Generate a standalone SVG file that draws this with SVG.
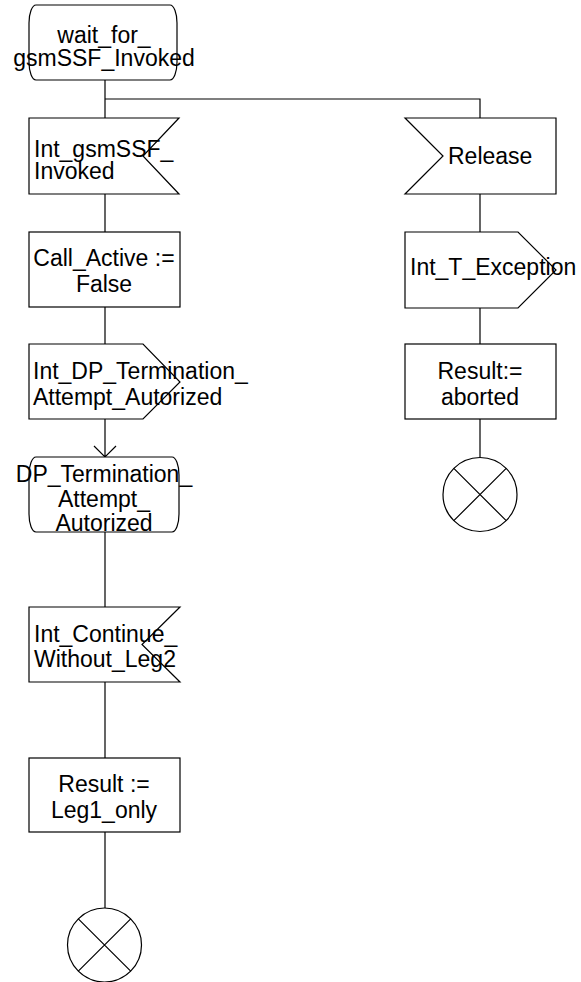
<svg xmlns="http://www.w3.org/2000/svg" width="581" height="982" viewBox="0 0 581 982">
<style>
.s{fill:#fff;stroke:#000;stroke-width:1.2}
.c{fill:none;stroke:#000;stroke-width:1.2}
text{font-family:"Liberation Sans",Arial,sans-serif;font-size:23px;fill:#000}
.m{text-anchor:middle}
</style>
<rect width="581" height="982" fill="#fff"/>
<g id="connectors">
<path class="c" d="M105,80 V118 M105,99 H480 V118 M105,194 V232 M105,307 V344 M105,419 V457 M94,446 L105,457 L116,446 M105,532 V607 M105,682 V758 M105,832 V908 M480,194 V232 M480,308 V344 M480,419 V457"/>
</g>
<g id="state1">
<path class="s" d="M36,5 H170 A7,18 0 0 1 177,23 V62 A7,18 0 0 1 170,80 H36 A7,18 0 0 1 29,62 V23 A7,18 0 0 1 36,5 Z"/>
<text class="m" x="104" y="43">wait_for_</text>
<text class="m" x="104" y="66">gsmSSF_Invoked</text>
</g>
<g id="input1">
<path class="s" d="M29,118 H179 L143,156 L179,194 H29 Z"/>
<text x="34" y="157">Int_gsmSSF_</text>
<text x="34" y="179">Invoked</text>
</g>
<g id="task1">
<rect class="s" x="29" y="232" width="151" height="75"/>
<text class="m" x="104" y="266">Call_Active :=</text>
<text class="m" x="104" y="292">False</text>
</g>
<g id="output1">
<path class="s" d="M29,344 H143 L180,382 L143,419 H29 Z"/>
<text x="33" y="379">Int_DP_Termination_</text>
<text x="33" y="405">Attempt_Autorized</text>
</g>
<g id="state2">
<path class="s" d="M36,457 H172 A7,18 0 0 1 179,475 V514 A7,18 0 0 1 172,532 H36 A7,18 0 0 1 29,514 V475 A7,18 0 0 1 36,457 Z"/>
<text class="m" x="104" y="482">DP_Termination_</text>
<text class="m" x="104" y="507">Attempt_</text>
<text class="m" x="104" y="531">Autorized</text>
</g>
<g id="input2">
<path class="s" d="M29,607 H180 L142,644.5 L180,682 H29 Z"/>
<text x="34" y="642">Int_Continue_</text>
<text x="34" y="667">Without_Leg2</text>
</g>
<g id="task2">
<rect class="s" x="29" y="758" width="151" height="74"/>
<text class="m" x="104" y="792">Result :=</text>
<text class="m" x="104" y="818">Leg1_only</text>
</g>
<g id="stop1">
<circle class="s" cx="104.5" cy="945" r="37"/>
<path class="c" d="M78.3,918.8 L130.7,971.2 M130.7,918.8 L78.3,971.2"/>
</g>
<g id="input3">
<path class="s" d="M405,118 H556 V194 H405 L443,156 Z"/>
<text x="448" y="164">Release</text>
</g>
<g id="output2">
<path class="s" d="M405,232 H518 L556,270 L518,308 H405 Z"/>
<text x="410" y="275">Int_T_Exception</text>
</g>
<g id="task3">
<rect class="s" x="405" y="344" width="151" height="75"/>
<text class="m" x="480" y="379">Result:=</text>
<text class="m" x="480" y="405">aborted</text>
</g>
<g id="stop2">
<circle class="s" cx="480" cy="494.5" r="37"/>
<path class="c" d="M453.8,468.3 L506.2,520.7 M506.2,468.3 L453.8,520.7"/>
</g>
</svg>
